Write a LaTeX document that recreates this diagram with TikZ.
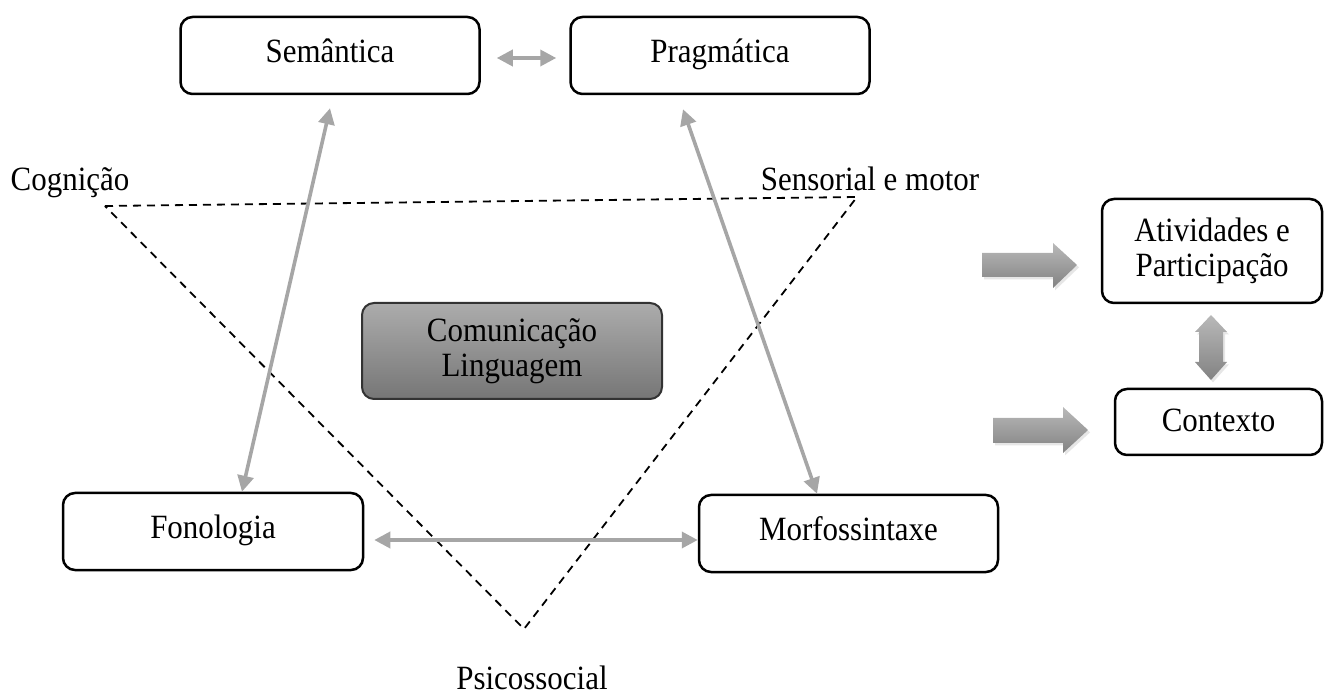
\documentclass[tikz,border=0pt]{standalone}
\usepackage{fontspec}
\setmainfont{Liberation Serif}[FakeStretch=0.91]
\usetikzlibrary{arrows.meta,calc,shadows}
\definecolor{connc}{RGB}{166,166,166}
\definecolor{comtop}{RGB}{172,172,172}
\definecolor{combot}{RGB}{118,118,118}
\definecolor{arrtop}{RGB}{185,185,185}
\definecolor{arrbot}{RGB}{130,130,130}
\begin{document}
\begin{tikzpicture}[x=0.5pt,y=-0.5pt,
  box/.style={draw=black,line width=1.25pt,rounded corners=6pt,fill=white,inner sep=0pt,align=center,font=\fontsize{17pt}{17.5pt}\selectfont},
  sbox/.style={box,text height=10.5pt,text depth=3.5pt},
  conn/.style={draw=connc,line width=1.8pt,{Triangle[length=8pt,width=8pt]}-{Triangle[length=8pt,width=8pt]}},
  tri/.style={draw=black,line width=0.9pt,dash pattern=on 4pt off 3pt},
  lbl/.style={font=\fontsize{17pt}{17.5pt}\selectfont,anchor=base,inner sep=0pt},
  block/.style={draw=none,top color=arrtop,bottom color=arrbot,drop shadow={opacity=0.2,shadow xshift=1pt,shadow yshift=-1.2pt}}
]
\useasboundingbox (0,0) rectangle (1324,695);

% dashed triangle
\coordinate (cog) at (105,206);
\coordinate (sen) at (857,197);
\coordinate (psi) at (524,629);
\draw[tri] (cog) -- (sen) -- (psi) -- cycle;

% boxes
\node[sbox,minimum width=149.5pt,minimum height=38.5pt] (sem) at (330,55.5) {Semântica};
\node[sbox,minimum width=149.5pt,minimum height=38.5pt] (prag) at (720,55.5) {Pragmática};
\node[sbox,minimum width=150pt,minimum height=38.5pt] (fon) at (213,531.5) {Fonologia};
\node[sbox,minimum width=149.5pt,minimum height=38.5pt] (morf) at (848.5,533.5) {Morfossintaxe};
\node[box,minimum width=110pt,minimum height=52pt] (ativ) at (1212,251) {Atividades e\\Participação};
\node[box,text height=11.5pt,text depth=2.5pt,minimum width=103.5pt,minimum height=33pt] (cont) at (1218.5,422) {Contexto};

% labels
\node[lbl] (lcog) at (70,191) {Cognição};
\node[lbl] (lsen) at (870,191) {Sensorial e motor};
\node[lbl] (lpsi) at (532,689) {Psicossocial};

% connectors
\draw[conn] ($(sem.east)+(16,2.5)$) -- ($(prag.west)+(-13,2.5)$);
\draw[conn] ($(sem.south)+(0,13)$) -- ($(fon.north)+(29,0)$);
\draw[conn] ($(prag.south)+(-37,14)$) -- ($(morf.north)+(-31.5,0)$);
\draw[conn] ($(fon.east)+(10,8.5)$) -- ($(morf.west)+(0,6.5)$);

% central box
\node[box,draw=black!80,line width=1pt,top color=comtop,bottom color=combot,minimum width=150pt,minimum height=48pt] (com) at (512,351) {Comunicação\\Linguagem};

% block arrows
\path[block] (982,253) -- (1053,253) -- (1053,243) -- (1077,265) -- (1053,288) -- (1053,277) -- (982,277) -- cycle;
\path[block] (993,418) -- (1063,418) -- (1063,407) -- (1088,430) -- (1063,453) -- (1063,443) -- (993,443) -- cycle;
\path[block] (1211,315) -- (1227,332) -- (1223,332) -- (1223,362) -- (1227,362) -- (1211,380) -- (1195,362) -- (1199,362) -- (1199,332) -- (1195,332) -- cycle;
\end{tikzpicture}
\end{document}
